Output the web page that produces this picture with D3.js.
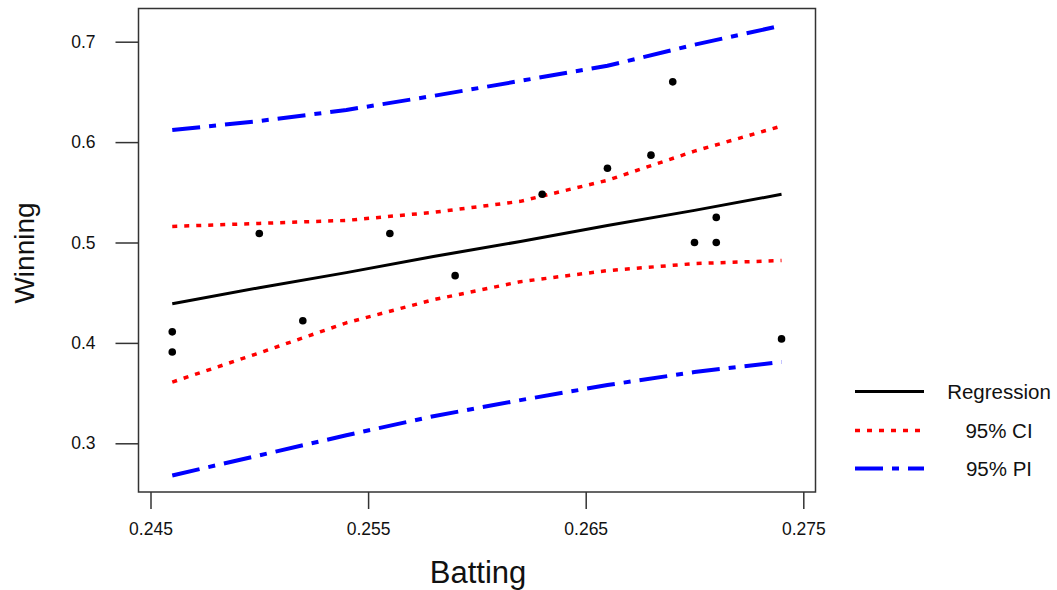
<!DOCTYPE html>
<html>
<head>
<meta charset="utf-8">
<script src="https://cdn.jsdelivr.net/npm/d3@7"></script>
<style>
  body { margin: 0; background: #fff; }
  svg text { font-family: "Liberation Sans", Arial, sans-serif; fill: #111; }
</style>
</head>
<body>
<div class="chart"></div>
<script>
// observed points
let batting = [0.246, 0.246, 0.250, 0.252, 0.256, 0.259, 0.263, 0.266, 0.268, 0.269, 0.270, 0.271, 0.271, 0.274];
let winning = [0.411, 0.391, 0.509, 0.422, 0.509, 0.467, 0.548, 0.574, 0.587, 0.660, 0.500, 0.500, 0.525, 0.404];

// fitted curves read at these batting values
let gridX = [0.246, 0.250, 0.254, 0.258, 0.262, 0.266, 0.270, 0.274];
let fit = [0.439, 0.455, 0.470, 0.486, 0.501, 0.517, 0.532, 0.548];
let ciUpper = [0.516, 0.519, 0.522, 0.530, 0.541, 0.562, 0.591, 0.616];
let ciLower = [0.361, 0.390, 0.420, 0.443, 0.461, 0.472, 0.479, 0.482];
let piUpper = [0.612, 0.621, 0.632, 0.646, 0.661, 0.676, 0.697, 0.716];
let piLower = [0.268, 0.288, 0.308, 0.327, 0.343, 0.358, 0.371, 0.381];

let xTicks = [0.245, 0.255, 0.265, 0.275];
let yTicks = [0.3, 0.4, 0.5, 0.6, 0.7];
let legendNames = ["Regression", "95% CI", "95% PI"];

let svgWidth = 1057;
let svgHeight = 590;
let frame = { left: 138.5, right: 815.5, top: 8.5, bottom: 492 };

let svg = d3.select(".chart")
  .append("svg")
  .attr("width", svgWidth)
  .attr("height", svgHeight);

let x = d3.scaleLinear().domain([0.245, 0.275]).range([150.5, 803.3]);
let y = d3.scaleLinear().domain([0.3, 0.7]).range([443.3, 41.7]);

// styles for the three curve kinds
let styles = [
  { color: "#000", width: 3, dash: null },
  { color: "#ff0000", width: 3.5, dash: "5,7" },
  { color: "#0000ff", width: 4, dash: "28,9,7,9" }
];

// frame
svg.append("rect")
  .attr("x", frame.left)
  .attr("y", frame.top)
  .attr("width", frame.right - frame.left)
  .attr("height", frame.bottom - frame.top)
  .attr("fill", "none")
  .attr("stroke", "#333")
  .attr("stroke-width", 1.5);

// x axis
let xAxis = svg.append("g")
  .attr("transform", `translate(0, ${frame.bottom})`)
  .call(d3.axisBottom(x).tickValues(xTicks).tickSize(17).tickPadding(14).tickFormat(d3.format(".3f")));
xAxis.select(".domain").remove();
xAxis.selectAll("line").attr("stroke", "#333").attr("stroke-width", 1.5);
xAxis.selectAll("text").attr("font-size", 17.5).attr("fill", "#111")
  .style("font-family", "'Liberation Sans', Arial, sans-serif");

// y axis
let yAxis = svg.append("g")
  .attr("transform", `translate(${frame.left}, 0)`)
  .call(d3.axisLeft(y).tickValues(yTicks).tickSize(23).tickPadding(20).tickFormat(d3.format(".1f")));
yAxis.select(".domain").remove();
yAxis.selectAll("line").attr("stroke", "#333").attr("stroke-width", 1.5);
yAxis.selectAll("text").attr("font-size", 17.5).attr("fill", "#111")
  .style("font-family", "'Liberation Sans', Arial, sans-serif");

// axis titles
svg.append("text")
  .attr("x", 478)
  .attr("y", 583)
  .attr("text-anchor", "middle")
  .attr("font-size", 31)
  .text("Batting");

svg.append("text")
  .attr("transform", "translate(34, 253) rotate(-90)")
  .attr("text-anchor", "middle")
  .attr("font-size", 28)
  .text("Winning");

// curves
let line = d3.line()
  .x((d, i) => x(gridX[i]))
  .y(d => y(d));

let curves = [
  { values: piUpper, style: styles[2] },
  { values: piLower, style: styles[2] },
  { values: ciUpper, style: styles[1] },
  { values: ciLower, style: styles[1] },
  { values: fit, style: styles[0] }
];

svg.selectAll(".curve")
  .data(curves)
  .enter()
  .append("path")
  .attr("class", "curve")
  .attr("d", d => line(d.values))
  .attr("fill", "none")
  .attr("stroke", d => d.style.color)
  .attr("stroke-width", d => d.style.width)
  .attr("stroke-dasharray", d => d.style.dash);

// points
svg.selectAll("circle")
  .data(batting)
  .enter()
  .append("circle")
  .attr("cx", d => x(d))
  .attr("cy", (d, i) => y(winning[i]))
  .attr("r", 3.8)
  .attr("fill", "#000");

// legend
let legend = svg.append("g");
let rowY = [391.5, 430.5, 468.5];
legendNames.forEach(function(name, i) {
  legend.append("line")
    .attr("x1", 855)
    .attr("x2", 924)
    .attr("y1", rowY[i])
    .attr("y2", rowY[i])
    .attr("stroke", styles[i].color)
    .attr("stroke-width", styles[i].width)
    .attr("stroke-dasharray", styles[i].dash);
  legend.append("text")
    .attr("x", 999)
    .attr("y", rowY[i] + 7)
    .attr("text-anchor", "middle")
    .attr("font-size", 20.5)
    .text(name);
});
</script>
</body>
</html>
